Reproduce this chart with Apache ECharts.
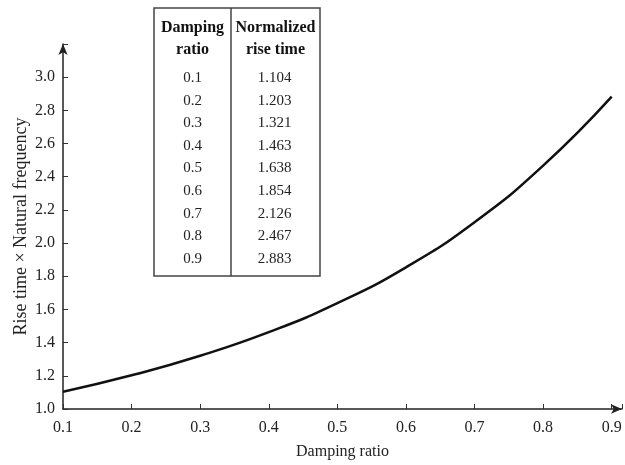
<!DOCTYPE html>
<html>
<head>
<meta charset="utf-8">
<script src="https://cdn.jsdelivr.net/npm/echarts@6/dist/echarts.min.js"></script>
<style>html,body{margin:0;padding:0;background:#fff}#c{width:625px;height:465px}</style>
</head>
<body>
<div id="c"></div>
<script>
const dampingRatios = [0.1, 0.2, 0.3, 0.4, 0.5, 0.6, 0.7, 0.8, 0.9];
const riseTimes = [1.104, 1.203, 1.321, 1.463, 1.638, 1.854, 2.126, 2.467, 2.883];
const tableHeaders = [['Damping', 'ratio'], ['Normalized', 'rise time']];
const xTitle = 'Damping ratio';
const yTitle = 'Rise time \u00d7 Natural frequency';

const font = '"Liberation Serif", "DejaVu Serif", serif';
const chart = echarts.init(document.getElementById('c'), null, {renderer: 'canvas'});

// table graphics
const tX0 = 154, tX1 = 320, tXm = 231, tY0 = 8, tY1 = 276;
const c1 = (tX0 + tXm) / 2, c2 = (tXm + tX1) / 2 - 1;
const graphics = [
  {type: 'rect', shape: {x: tX0, y: tY0, width: tX1 - tX0, height: tY1 - tY0},
   style: {fill: '#fff', stroke: '#444', lineWidth: 1.5}, z: 10},
  {type: 'line', shape: {x1: tXm, y1: tY0, x2: tXm, y2: tY1},
   style: {stroke: '#444', lineWidth: 1.5}, z: 11}
];
tableHeaders.forEach((h, i) => {
  h.forEach((t, j) => {
    graphics.push({type: 'text', x: i === 0 ? c1 : c2 + 1, y: 28 + j * 22, z: 12,
      style: {text: t, font: 'bold 16px ' + font, fill: '#111', align: 'center', verticalAlign: 'middle'}});
  });
});
dampingRatios.forEach((d, i) => {
  const y = 78 + i * 22.6;
  graphics.push({type: 'text', x: c1, y: y, z: 12,
    style: {text: d.toFixed(1), font: '15px ' + font, fill: '#222', align: 'center', verticalAlign: 'middle'}});
  graphics.push({type: 'text', x: c2, y: y, z: 12,
    style: {text: riseTimes[i].toFixed(3), font: '15px ' + font, fill: '#222', align: 'center', verticalAlign: 'middle'}});
});

chart.setOption({
  animation: false,
  backgroundColor: '#fff',
  grid: {left: 63, right: 3, top: 44, bottom: 55, containLabel: false},
  xAxis: {
    type: 'value', min: 0.1, max: 0.915, interval: 0.1,
    name: xTitle, nameLocation: 'middle', nameGap: 35,
    nameTextStyle: {fontFamily: font, fontSize: 16, color: '#222'},
    axisLine: {lineStyle: {color: '#222', width: 1.5}, symbol: ['none', 'arrow'], symbolSize: [7, 11]},
    axisTick: {inside: true, length: 5, lineStyle: {color: '#333'}},
    axisLabel: {fontFamily: font, fontSize: 16, color: '#222', margin: 11,
      formatter: v => (Math.abs(v * 10 - Math.round(v * 10)) < 1e-6 && v < 0.905) ? v.toFixed(1) : ''},
    splitLine: {show: false}
  },
  yAxis: {
    type: 'value', min: 1.0, max: 3.2, interval: 0.2,
    name: yTitle, nameLocation: 'middle', nameGap: 33, nameRotate: 90,
    nameMoveOverlap: false,
    nameTextStyle: {fontFamily: font, fontSize: 18, color: '#222'},
    axisLine: {show: true, lineStyle: {color: '#222', width: 1.5}, symbol: ['none', 'arrow'], symbolSize: [7, 11]},
    axisTick: {show: true, inside: true, length: 5, lineStyle: {color: '#333'}},
    axisLabel: {fontFamily: font, fontSize: 16, color: '#222', margin: 8,
      formatter: v => v > 3.05 ? '' : v.toFixed(1)},
    splitLine: {show: false}
  },
  series: [{
    type: 'line',
    data: dampingRatios.map((d, i) => [d, riseTimes[i]]),
    smooth: true,
    showSymbol: false,
    lineStyle: {color: '#111', width: 2.5},
    z: 3
  }],
  graphic: graphics
});
</script>
</body>
</html>
